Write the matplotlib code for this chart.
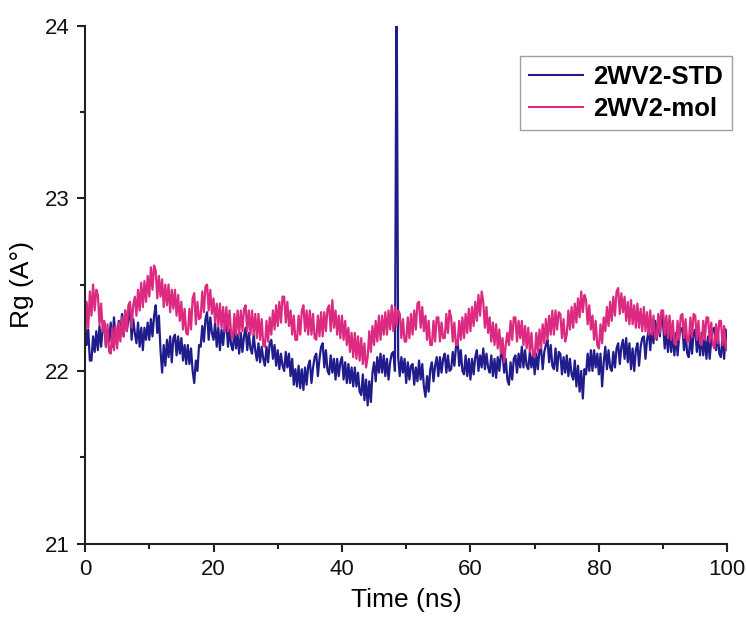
import numpy as np
import matplotlib
matplotlib.use("Agg")
import matplotlib.pyplot as plt

plt.rcParams['font.family'] = ['Liberation Sans', 'DejaVu Sans']

time_ns = np.linspace(0, 100, 401)

rg_std = [
    22.30, 22.15, 22.24, 22.06, 22.06, 22.20, 22.11, 22.23, 22.12, 22.26, 22.14, 22.24, 22.28, 22.14, 22.24, 22.17, 22.28, 22.14, 22.31, 22.20,
    22.17, 22.29, 22.21, 22.33, 22.20, 22.35, 22.23, 22.30, 22.37, 22.18, 22.30, 22.22, 22.16, 22.28, 22.14, 22.25, 22.12, 22.25, 22.18, 22.28,
    22.18, 22.30, 22.20, 22.32, 22.38, 22.22, 22.32, 22.12, 21.99, 22.15, 22.03, 22.18, 22.08, 22.20, 22.05, 22.19, 22.21, 22.09, 22.20, 22.10,
    22.19, 22.06, 22.15, 22.04, 22.15, 22.04, 22.13, 22.00, 21.93, 22.06, 22.00, 22.15, 22.14, 22.26, 22.17, 22.30, 22.34, 22.18, 22.31, 22.22,
    22.18, 22.28, 22.14, 22.25, 22.12, 22.24, 22.15, 22.26, 22.28, 22.14, 22.24, 22.15, 22.12, 22.24, 22.13, 22.21, 22.10, 22.22, 22.11, 22.20,
    22.25, 22.12, 22.22, 22.13, 22.10, 22.21, 22.12, 22.06, 22.16, 22.05, 22.14, 22.07, 22.03, 22.14, 22.05, 22.16, 22.18, 22.07, 22.15, 22.03,
    22.12, 22.01, 22.10, 22.03, 22.00, 22.11, 22.02, 22.10, 21.97, 22.07, 21.92, 22.01, 21.91, 22.03, 21.90, 22.01, 21.89, 22.02, 21.92, 22.03,
    22.06, 21.93, 22.02, 22.08, 22.10, 21.97, 22.07, 22.14, 22.16, 22.02, 22.12, 22.00, 21.98, 22.09, 21.99, 22.07, 21.95, 22.07, 21.97, 22.05,
    22.08, 21.95, 22.05, 21.93, 22.04, 21.93, 22.02, 21.91, 22.02, 21.91, 21.99, 21.88, 21.86, 21.98, 21.83, 21.95, 21.80, 21.94, 21.82, 21.99,
    22.05, 21.94, 22.08, 21.99, 22.10, 21.99, 22.09, 21.97, 22.07, 21.95, 22.05, 22.10, 22.11, 22.00, 24.30, 22.08, 21.97, 22.08, 21.99, 22.07,
    21.93, 22.05, 21.95, 22.03, 22.04, 21.92, 22.02, 21.94, 22.06, 21.95, 22.04, 21.91, 21.85, 21.97, 21.88, 22.01, 22.05, 21.94, 22.03, 22.08,
    21.97, 22.08, 21.99, 22.07, 22.10, 21.99, 22.09, 22.00, 22.01, 22.11, 22.03, 22.14, 22.18, 22.03, 22.12, 22.00, 21.98, 22.09, 21.97, 22.07,
    21.95, 22.07, 21.98, 22.08, 22.12, 22.00, 22.09, 22.02, 22.13, 22.01, 22.10, 22.02, 21.99, 22.09, 21.97, 22.07, 21.96, 22.08, 22.00, 22.10,
    22.10, 21.99, 22.07, 21.95, 21.92, 22.05, 21.95, 22.07, 22.09, 21.99, 22.10, 22.02, 22.14, 22.02, 22.12, 22.03, 22.01, 22.11, 22.02, 22.10,
    21.98, 22.10, 22.01, 22.12, 22.13, 22.01, 22.11, 22.15, 22.18, 22.05, 22.15, 22.03, 22.01, 22.13, 22.00, 22.11, 22.10, 21.98, 22.08, 21.99,
    22.09, 21.97, 22.07, 21.98, 21.95, 22.06, 21.91, 22.03, 21.88, 22.00, 21.84, 22.01, 21.98, 22.10, 22.00, 22.12, 22.00, 22.12, 22.02, 22.10,
    21.98, 22.10, 21.91, 22.05, 22.14, 22.01, 22.12, 22.02, 22.00, 22.11, 22.02, 22.13, 22.16, 22.04, 22.14, 22.18, 22.07, 22.19, 22.05, 22.16,
    22.01, 22.13, 22.00, 22.12, 22.16, 22.03, 22.14, 22.19, 22.20, 22.07, 22.18, 22.24, 22.12, 22.25, 22.16, 22.29, 22.18, 22.32, 22.20, 22.34,
    22.27, 22.13, 22.24, 22.11, 22.24, 22.11, 22.22, 22.09, 22.22, 22.09, 22.20, 22.24, 22.25, 22.12, 22.22, 22.10, 22.08, 22.21, 22.10, 22.22,
    22.24, 22.11, 22.22, 22.09, 22.22, 22.09, 22.20, 22.07, 22.20, 22.07, 22.18, 22.24, 22.25, 22.12, 22.23, 22.10, 22.08, 22.21, 22.07, 22.24,
    22.12,
]

rg_mol = [
    22.22, 22.40, 22.25, 22.46, 22.32, 22.50, 22.35, 22.47, 22.44, 22.27, 22.39, 22.23, 22.29, 22.14, 22.27, 22.11, 22.10, 22.25, 22.12, 22.26,
    22.13, 22.28, 22.17, 22.31, 22.20, 22.35, 22.23, 22.38, 22.40, 22.25, 22.38, 22.43, 22.32, 22.47, 22.35, 22.51, 22.37, 22.52, 22.40, 22.55,
    22.43, 22.60, 22.47, 22.61, 22.58, 22.42, 22.55, 22.43, 22.53, 22.37, 22.50, 22.38, 22.50, 22.34, 22.47, 22.36, 22.47, 22.32, 22.44, 22.29,
    22.40, 22.24, 22.36, 22.22, 22.21, 22.36, 22.24, 22.42, 22.45, 22.27, 22.40, 22.30, 22.31, 22.46, 22.34, 22.49, 22.50, 22.35, 22.47, 22.33,
    22.42, 22.28, 22.39, 22.26, 22.39, 22.25, 22.37, 22.23, 22.37, 22.23, 22.35, 22.21, 22.19, 22.33, 22.21, 22.35, 22.21, 22.35, 22.23, 22.36,
    22.38, 22.23, 22.35, 22.21, 22.35, 22.21, 22.33, 22.19, 22.33, 22.18, 22.30, 22.15, 22.14, 22.29, 22.17, 22.31, 22.21, 22.35, 22.24, 22.38,
    22.26, 22.40, 22.28, 22.43, 22.43, 22.28, 22.40, 22.26, 22.35, 22.21, 22.32, 22.18, 22.18, 22.32, 22.21, 22.35, 22.38, 22.23, 22.35, 22.21,
    22.35, 22.21, 22.33, 22.19, 22.18, 22.32, 22.20, 22.34, 22.20, 22.34, 22.23, 22.36, 22.38, 22.23, 22.41, 22.25, 22.35, 22.21, 22.32, 22.19,
    22.32, 22.18, 22.29, 22.15, 22.25, 22.11, 22.22, 22.08, 22.22, 22.07, 22.20, 22.06, 22.19, 22.04, 22.16, 22.02, 22.08, 22.23, 22.11, 22.26,
    22.15, 22.29, 22.17, 22.32, 22.18, 22.32, 22.21, 22.34, 22.21, 22.35, 22.24, 22.38, 22.23, 22.37, 22.26, 22.35, 22.33, 22.19, 22.30, 22.17,
    22.17, 22.31, 22.19, 22.33, 22.21, 22.35, 22.24, 22.39, 22.40, 22.25, 22.37, 22.23, 22.32, 22.18, 22.29, 22.15, 22.15, 22.29, 22.17, 22.31,
    22.31, 22.17, 22.28, 22.19, 22.19, 22.33, 22.22, 22.35, 22.31, 22.17, 22.28, 22.15, 22.15, 22.29, 22.18, 22.31, 22.19, 22.33, 22.22, 22.36,
    22.23, 22.37, 22.26, 22.40, 22.29, 22.44, 22.32, 22.46, 22.40, 22.25, 22.37, 22.22, 22.31, 22.17, 22.28, 22.15, 22.27, 22.13, 22.24, 22.10,
    22.19, 22.05, 22.15, 22.22, 22.15, 22.29, 22.18, 22.31, 22.31, 22.17, 22.29, 22.19, 22.29, 22.15, 22.26, 22.13, 22.25, 22.11, 22.22, 22.09,
    22.08, 22.22, 22.11, 22.24, 22.13, 22.27, 22.16, 22.30, 22.18, 22.32, 22.21, 22.35, 22.21, 22.35, 22.24, 22.34, 22.33, 22.19, 22.30, 22.17,
    22.21, 22.35, 22.24, 22.37, 22.25, 22.39, 22.28, 22.42, 22.31, 22.46, 22.34, 22.44, 22.41, 22.27, 22.38, 22.24, 22.32, 22.18, 22.29, 22.15,
    22.13, 22.27, 22.16, 22.31, 22.23, 22.37, 22.26, 22.40, 22.29, 22.43, 22.32, 22.46, 22.48, 22.33, 22.45, 22.34, 22.43, 22.29, 22.40, 22.27,
    22.41, 22.27, 22.38, 22.25, 22.39, 22.25, 22.36, 22.23, 22.37, 22.23, 22.34, 22.21, 22.35, 22.21, 22.32, 22.19, 22.19, 22.33, 22.22, 22.35,
    22.35, 22.21, 22.32, 22.19, 22.32, 22.18, 22.29, 22.16, 22.15, 22.29, 22.18, 22.32, 22.33, 22.19, 22.30, 22.17, 22.17, 22.31, 22.20, 22.33,
    22.32, 22.18, 22.29, 22.16, 22.15, 22.29, 22.18, 22.31, 22.31, 22.17, 22.28, 22.15, 22.13, 22.27, 22.16, 22.29, 22.29, 22.15, 22.26, 22.13,
    22.18,
]

series_names = ["2WV2-STD", "2WV2-mol"]
series_colors = ["#211c8c", "#dc2a80"]

fig = plt.figure(figsize=(7.46, 6.22), dpi=100)
ax = fig.add_axes([0.114, 0.126, 0.861, 0.833])

ax.plot(time_ns, rg_std, color=series_colors[0], lw=1.6, label=series_names[0])
ax.plot(time_ns, rg_mol, color=series_colors[1], lw=1.6, label=series_names[1])

ax.set_xlim(0, 100)
ax.set_ylim(21, 24)
ax.set_xticks([0, 20, 40, 60, 80, 100])
ax.set_xticks([10, 30, 50, 70, 90], minor=True)
ax.set_yticks([21, 22, 23, 24])
ax.set_yticks([21.5, 22.5, 23.5], minor=True)

for s in ["top", "right"]:
    ax.spines[s].set_visible(False)
for s in ["left", "bottom"]:
    ax.spines[s].set_linewidth(1.5)
    ax.spines[s].set_color("#222222")

ax.tick_params(which="major", direction="out", length=6, width=1.5, labelsize=16, colors="#222222", pad=5)
ax.tick_params(which="minor", direction="out", length=3.5, width=1.5, colors="#222222")
ax.tick_params(axis="x", labelcolor="#111111")
ax.tick_params(axis="y", labelcolor="#111111")

ax.set_xlabel("Time (ns)", fontsize=19, labelpad=6)
ax.set_ylabel("Rg (A°)", fontsize=19, labelpad=8)

leg = ax.legend(loc="upper right", bbox_to_anchor=(732 / 746, (622 - 56) / 622),
                bbox_transform=fig.transFigure, frameon=True, fancybox=False,
                edgecolor="#888888", prop={"weight": "bold", "size": 18.5},
                handlelength=2.1, handletextpad=0.4, borderpad=0.35, labelspacing=0.3,
                borderaxespad=0)
leg.get_frame().set_linewidth(1.0)
for line in leg.get_lines():
    line.set_linewidth(1.5)

fig.savefig("out.png", dpi=100)
